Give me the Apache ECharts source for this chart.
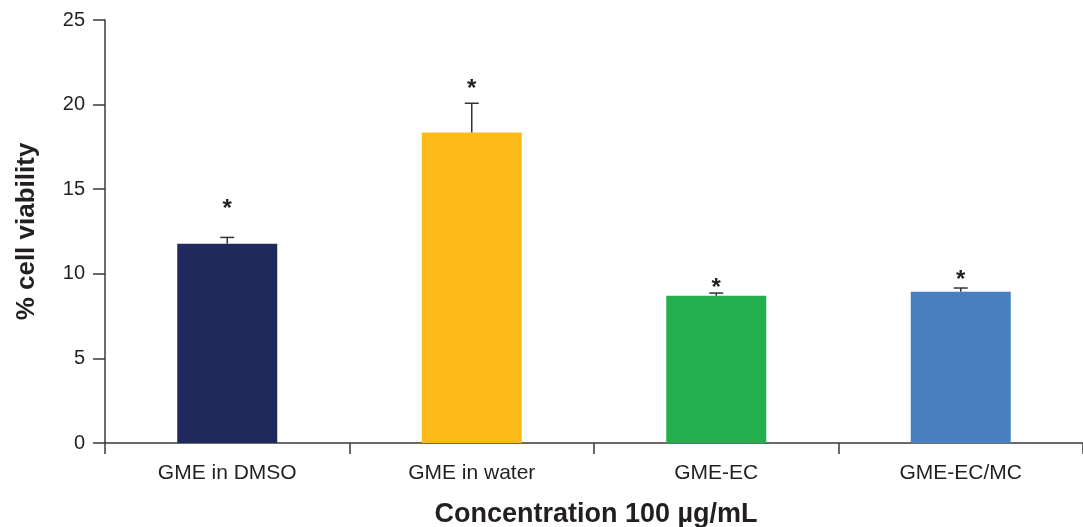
<!DOCTYPE html>
<html>
<head>
<meta charset="utf-8">
<script src="https://cdn.jsdelivr.net/npm/echarts@6/dist/echarts.min.js"></script>
<style>
html,body{margin:0;padding:0;background:#fff;}
#chart{width:1083px;height:527px;}
</style>
</head>
<body>
<div id="chart"></div>
<script>
const categories = ['GME in DMSO', 'GME in water', 'GME-EC', 'GME-EC/MC'];
const viability = [11.77, 18.35, 8.70, 8.94];
const errorTop = [12.15, 20.08, 8.86, 9.16];
const starAt = [14.19, 21.28, 9.51, 9.94];
const barColors = ['#20295C', '#FBBA18', '#23AF4E', '#4A7FBF'];
const yTicks = [0, 5, 10, 15, 20, 25];

const chart = echarts.init(document.getElementById('chart'));
const font = '"Liberation Sans", Arial, Helvetica, sans-serif';
const axisColor = '#3a3a3a';

chart.setOption({
  animation: false,
  backgroundColor: '#fff',
  grid: { left: 105, right: 0, top: 20, bottom: 84, containLabel: false, outerBoundsMode: 'none' },
  xAxis: {
    type: 'category',
    data: categories,
    axisLine: { lineStyle: { color: axisColor, width: 1.5 } },
    axisTick: { show: true, length: 11, lineStyle: { color: axisColor, width: 1.5 } },
    axisLabel: { color: '#231f20', fontSize: 21, fontFamily: font, margin: 20 },
    name: 'Concentration 100 µg/mL',
    nameLocation: 'middle',
    nameGap: 58,
    nameTextStyle: { color: '#231f20', fontSize: 27, fontWeight: 'bold', fontFamily: font, padding: [0, 0, 0, 4] }
  },
  yAxis: {
    type: 'value',
    min: yTicks[0],
    max: yTicks[yTicks.length - 1],
    interval: 5,
    splitLine: { show: false },
    axisLine: { show: true, lineStyle: { color: axisColor, width: 1.5 } },
    axisTick: { show: true, length: 12, lineStyle: { color: axisColor, width: 1.5 } },
    axisLabel: { color: '#231f20', fontSize: 20, fontFamily: font, margin: 20 },
    name: '% cell viability',
    nameLocation: 'middle',
    nameGap: 65,
    nameTextStyle: { color: '#231f20', fontSize: 26, fontWeight: 'bold', fontFamily: font }
  },
  series: [
    {
      type: 'bar',
      barWidth: 100,
      data: viability.map((v, i) => ({ value: v, itemStyle: { color: barColors[i] } })),
      z: 2
    },
    {
      type: 'custom',
      z: 3,
      data: categories.map((c, i) => [i, viability[i], errorTop[i], starAt[i]]),
      renderItem: function (params, api) {
        const base = api.coord([api.value(0), api.value(1)]);
        const top = api.coord([api.value(0), api.value(2)]);
        const star = api.coord([api.value(0), api.value(3)]);
        const half = 7;
        return {
          type: 'group',
          children: [
            { type: 'line', shape: { x1: base[0], y1: base[1], x2: top[0], y2: top[1] }, style: { stroke: '#333', lineWidth: 1.5 } },
            { type: 'line', shape: { x1: top[0] - half, y1: top[1], x2: top[0] + half, y2: top[1] }, style: { stroke: '#333', lineWidth: 1.5 } },
            { type: 'text', x: star[0], y: star[1] + 6, style: { text: '*', fill: '#231f20', font: 'bold 24px ' + font, textAlign: 'center', textVerticalAlign: 'middle' } }
          ]
        };
      }
    }
  ]
});
</script>
</body>
</html>
